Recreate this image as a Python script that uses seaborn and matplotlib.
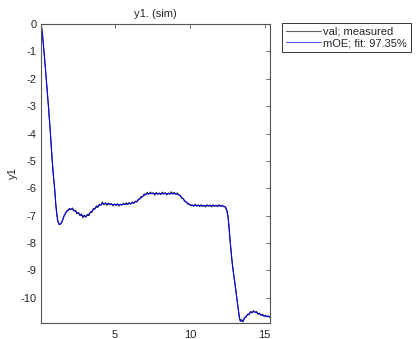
import numpy as np
import pandas as pd
import matplotlib
matplotlib.use("Agg")
import matplotlib.pyplot as plt
import seaborn as sns

# model output (mOE)
fit_t = [0.05, 0.1, 0.15, 0.2, 0.25, 0.3, 0.4, 0.5, 0.55, 0.6, 0.68, 0.8, 0.88, 0.96,
         1.04, 1.1, 1.17, 1.24, 1.3, 1.4, 1.5, 1.6, 1.75, 1.9, 2.05, 2.2, 2.35, 2.5,
         2.7, 2.9, 3.05, 3.2, 3.4, 3.6, 3.8, 4.0, 4.2, 4.5, 4.8, 5.1, 5.4, 5.7, 6.0,
         6.3, 6.5, 6.7, 6.9, 7.1, 7.4, 7.8, 8.2, 8.6, 9.0, 9.2, 9.4, 9.6, 9.8, 10.0,
         10.2, 10.6, 11.0, 11.5, 12.0, 12.3, 12.4, 12.5, 12.6, 12.7, 12.8, 12.9, 13.0,
         13.1, 13.2, 13.3, 13.4, 13.5, 13.6, 13.75, 13.9, 14.05, 14.2, 14.35, 14.5,
         14.7, 14.9, 15.1, 15.35]
fit_y = [0.0, -0.15, -0.4, -0.7, -1.0, -1.33, -2.0, -2.67, -3.0, -3.4, -4.0, -5.0, -5.55, -6.0,
         -6.6, -6.95, -7.2, -7.3, -7.33, -7.28, -7.15, -7.0, -6.86, -6.79, -6.76, -6.78, -6.84, -6.9,
         -6.97, -7.02, -7.02, -6.97, -6.86, -6.76, -6.67, -6.6, -6.56, -6.56, -6.59, -6.6, -6.6, -6.58, -6.56,
         -6.52, -6.46, -6.36, -6.27, -6.21, -6.19, -6.2, -6.2, -6.2, -6.2, -6.22, -6.3, -6.42, -6.53, -6.6,
         -6.63, -6.64, -6.64, -6.64, -6.64, -6.66, -6.7, -6.85, -7.3, -8.0, -8.6, -9.05, -9.45,
         -9.85, -10.3, -10.72, -10.86, -10.84, -10.78, -10.68, -10.6, -10.54, -10.51, -10.52, -10.56,
         -10.61, -10.65, -10.67, -10.69]

# measured validation data, sampled every 0.1 s from 0.05 to 15.35
measured_y = [
    0.0, -0.38, -1.0, -1.65, -2.35, -3.0, -3.75, -4.6, -5.35, -5.95,
    -6.65, -7.12, -7.32, -7.3, -7.24, -7.06, -6.95, -6.84, -6.8, -6.74,
    -6.78, -6.72, -6.83, -6.8, -6.93, -6.88, -7.0, -6.94, -7.08, -6.98,
    -7.06, -6.95, -7.0, -6.86, -6.88, -6.74, -6.76, -6.64, -6.7, -6.58,
    -6.62, -6.5, -6.6, -6.53, -6.62, -6.54, -6.6, -6.56, -6.64, -6.57,
    -6.63, -6.56, -6.65, -6.58, -6.62, -6.55, -6.6, -6.53, -6.59, -6.52,
    -6.58, -6.5, -6.55, -6.47, -6.5, -6.4, -6.38, -6.3, -6.3, -6.2,
    -6.24, -6.15, -6.22, -6.14, -6.2, -6.16, -6.25, -6.15, -6.22, -6.17,
    -6.23, -6.14, -6.2, -6.16, -6.24, -6.17, -6.21, -6.13, -6.2, -6.15,
    -6.22, -6.17, -6.24, -6.26, -6.36, -6.38, -6.48, -6.5, -6.58, -6.57,
    -6.64, -6.6, -6.66, -6.58, -6.65, -6.6, -6.67, -6.6, -6.66, -6.62,
    -6.68, -6.6, -6.65, -6.61, -6.68, -6.6, -6.66, -6.62, -6.67, -6.6,
    -6.66, -6.62, -6.67, -6.68, -6.8, -7.05, -7.7, -8.3, -8.85, -9.25,
    -9.65, -10.1, -10.5, -10.85, -10.8, -10.88, -10.72, -10.7, -10.6, -10.62,
    -10.5, -10.55, -10.47, -10.53, -10.5, -10.6, -10.56, -10.64, -10.6, -10.68,
    -10.64, -10.7, -10.66, -10.72]
measured_t = np.linspace(0.05, 15.35, len(measured_y))

y_ticks = [0, -1, -2, -3, -4, -5, -6, -7, -8, -9, -10]
x_ticks = [5, 10, 15]

sns.set_style("white")
plt.rcParams["font.family"] = ["Liberation Sans", "DejaVu Sans"]
plt.rcParams["font.size"] = 8
plt.rcParams["axes.unicode_minus"] = False

fig = plt.figure(figsize=(4.17, 3.39), dpi=100)
ax = fig.add_axes([41 / 417, 1 - 323 / 339, 229 / 417, 299 / 339])

meas = pd.DataFrame({"t": measured_t, "y": measured_y})
fit = pd.DataFrame({"t": fit_t, "y": fit_y})
sns.lineplot(data=meas, x="t", y="y", ax=ax, color="#222222", lw=0.8,
             label="val; measured", estimator=None, sort=False)
sns.lineplot(data=fit, x="t", y="y", ax=ax, color="#0000ff", lw=0.7,
             label="mOE; fit: 97.35%", estimator=None, sort=False)

ax.set_xlim(0.05, 15.35)
ax.set_ylim(-10.92, 0)
ax.set_xticks(x_ticks)
ax.set_yticks(y_ticks)
ax.set_xlabel("")
ax.set_ylabel("y1", fontsize=8, labelpad=2)
ax.set_title("y1. (sim)", fontsize=8, pad=5)
ax.tick_params(direction="in", length=3, width=0.6, color="#555555",
               top=True, right=True, labelsize=8, pad=3)
ax.tick_params(axis="x", pad=5)
for s in ax.spines.values():
    s.set_color("#555555")
    s.set_linewidth(0.8)

ax.get_legend().remove()
h, l = ax.get_legend_handles_labels()
leg = fig.legend(h, l, loc="upper left", bbox_to_anchor=(281.7 / 417, 1 - 22.7 / 339),
                 borderaxespad=0, fancybox=False, frameon=True, fontsize=8,
                 handlelength=3.2, handletextpad=0.2, borderpad=0.35, labelspacing=0.15)
leg.get_frame().set_edgecolor("black")
leg.get_frame().set_linewidth(0.7)
for line in leg.get_lines():
    line.set_alpha(0.7)

fig.savefig("out.png", dpi=100)
